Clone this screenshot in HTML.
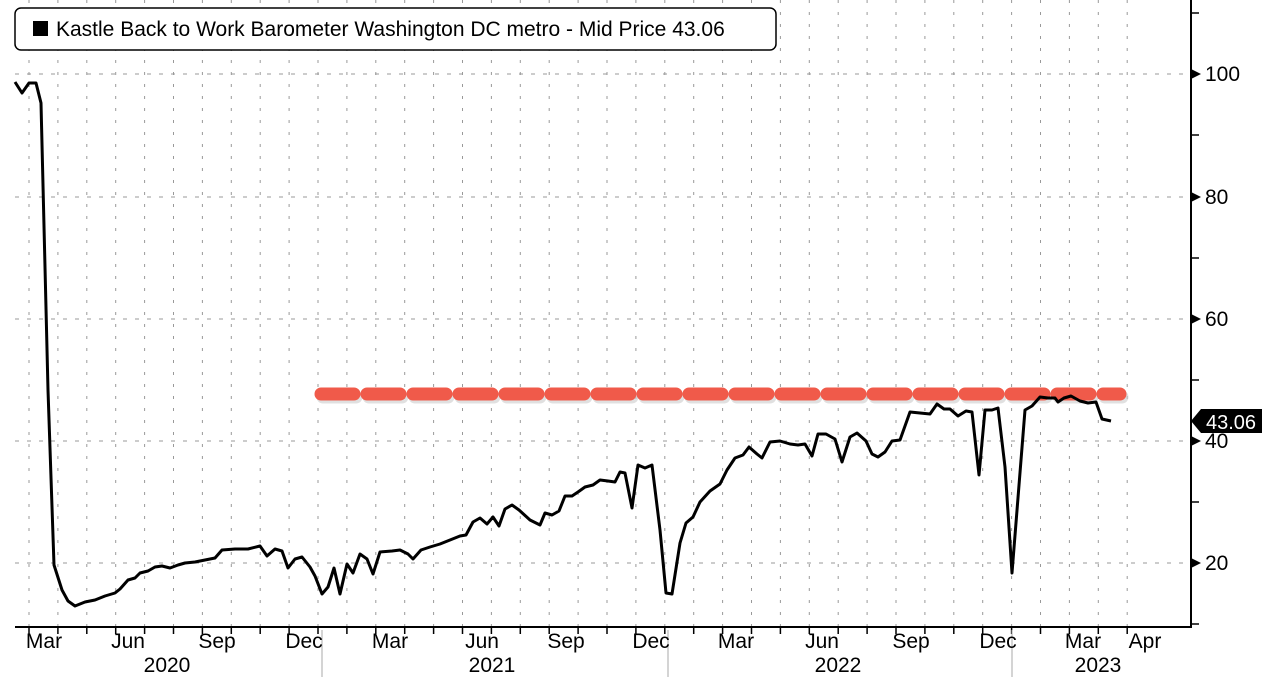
<!DOCTYPE html>
<html><head><style>
body{margin:0;background:#fff;}
svg{display:block;font-family:"Liberation Sans",sans-serif;}
</style></head><body>
<svg width="1280" height="677" viewBox="0 0 1280 677">
<rect width="1280" height="677" fill="#fff"/>
<g stroke="#999" stroke-width="1" stroke-dasharray="4,8">
<line x1="15" y1="74" x2="1190" y2="74"/><line x1="15" y1="197" x2="1190" y2="197"/>
<line x1="15" y1="319" x2="1190" y2="319"/><line x1="15" y1="441" x2="1190" y2="441"/>
<line x1="15" y1="563" x2="1190" y2="563"/>
</g>
<g id="vg" stroke="#999" stroke-width="1" stroke-dasharray="3,9"></g>
<g id="tk" stroke="#000" stroke-width="1.5"></g>
<line x1="15" y1="627" x2="1191" y2="627" stroke="#000" stroke-width="2"/>
<line x1="1191" y1="0" x2="1191" y2="628" stroke="#000" stroke-width="2"/>
<g stroke="#000" stroke-width="1.5">
<line x1="1191" y1="13" x2="1199" y2="13"/><line x1="1191" y1="135" x2="1199" y2="135"/>
<line x1="1191" y1="258" x2="1199" y2="258"/><line x1="1191" y1="380" x2="1199" y2="380"/>
<line x1="1191" y1="502" x2="1199" y2="502"/><line x1="1191" y1="624" x2="1199" y2="624"/>
</g>
<g fill="#000"><path d="M1191,69 l10,5 l-10,5z"/><path d="M1191,192 l10,5 l-10,5z"/><path d="M1191,314 l10,5 l-10,5z"/><path d="M1191,436 l10,5 l-10,5z"/><path d="M1191,558 l10,5 l-10,5z"/></g>
<g font-size="21" fill="#000">
<text x="1205" y="81">100</text><text x="1205" y="204">80</text><text x="1205" y="326">60</text><text x="1205" y="448">40</text><text x="1205" y="570">20</text>
</g>
<g stroke="#aaa" stroke-width="1"><line x1="322" y1="630" x2="322" y2="677"/><line x1="668" y1="630" x2="668" y2="677"/><line x1="1012" y1="630" x2="1012" y2="677"/></g>
<g font-size="21" fill="#000" text-anchor="middle">
<text x="44" y="648">Mar</text><text x="128" y="648">Jun</text><text x="217" y="648">Sep</text><text x="304" y="648">Dec</text>
<text x="390" y="648">Mar</text><text x="482" y="648">Jun</text><text x="566" y="648">Sep</text><text x="651" y="648">Dec</text>
<text x="736" y="648">Mar</text><text x="822" y="648">Jun</text><text x="911" y="648">Sep</text><text x="998" y="648">Dec</text>
<text x="1083" y="648">Mar</text><text x="1145" y="648">Apr</text>
<text x="167" y="672">2020</text><text x="492" y="672">2021</text><text x="838" y="672">2022</text><text x="1098" y="672">2023</text>
</g>
<line x1="323" y1="397" x2="1122" y2="397" stroke="#ccc" stroke-width="13" stroke-linecap="round" stroke-dasharray="33,13" opacity="0.6"/>
<line x1="321" y1="394" x2="1120" y2="394" stroke="#f05a4a" stroke-width="13" stroke-linecap="round" stroke-dasharray="33,13"/>
<polyline fill="none" stroke="#000" stroke-width="3" stroke-linejoin="round" points="15,82 22,93 29,83 36,83 41,103 48,390 54,565 62,590 68,601 75,606 85,602 95,600 105,596 115,593 120,589 128,580 135,578 140,573 148,571 155,567 162,566 170,568 178,565 185,563 195,562 205,560 215,558 222,550 235,549 248,549 260,546 267,556 275,549 282,551 288,568 295,559 302,557 310,567 315,576 322,594 328,587 334,568 340,594 347,564 353,573 360,554 367,559 373,574 380,552 392,551 400,550 408,554 413,559 421,550 430,547 440,544 450,540 460,536 466,535 473,522 480,518 487,524 493,517 499,526 505,509 512,505 519,510 530,520 540,525 545,513 552,515 559,511 565,496 572,496 578,492 585,487 593,485 600,480 608,481 615,482 620,472 625,473 632,508 638,465 645,468 652,465 660,530 666,593 672,594 680,543 686,523 693,517 700,502 710,491 720,484 727,470 735,458 743,455 749,447 757,454 762,458 770,442 780,441 790,444 798,445 805,444 812,456 818,434 826,434 835,439 842,462 850,437 857,433 866,441 872,454 878,457 885,452 892,441 900,440 905,426 910,412 920,413 930,414 937,404 944,409 950,409 958,416 966,411 972,412 979,475 985,410 992,410 998,408 1005,467 1012,573 1025,410 1032,406 1040,397 1048,398 1055,398 1058,402 1064,398 1071,396 1080,401 1088,403 1096,402 1102,419 1111,421"/>
<path d="M1191,421 l10,-12 h61 v24 h-61z" fill="#000"/>
<text x="1231" y="429" font-size="20" fill="#fff" text-anchor="middle">43.06</text>
<rect x="15" y="8" width="761" height="42" rx="6" fill="#fff" stroke="#000" stroke-width="1.5"/>
<rect x="33" y="21" width="15" height="15" fill="#000"/>
<text x="56" y="36" font-size="21" fill="#000">Kastle Back to Work Barometer Washington DC metro - Mid Price 43.06</text>
</svg>
<script>
var vg=document.getElementById('vg'),tk=document.getElementById('tk'),s='';var t='';
for(var m=0;m<=38;m++){var x=29+m*28.9;if(x>1190)break;s+='<line x1="'+x+'" y1="0" x2="'+x+'" y2="627"/>';t+='<line x1="'+x+'" y1="627" x2="'+x+'" y2="634"/>';}
vg.innerHTML=s;tk.innerHTML=t;
</script>
</body></html>
